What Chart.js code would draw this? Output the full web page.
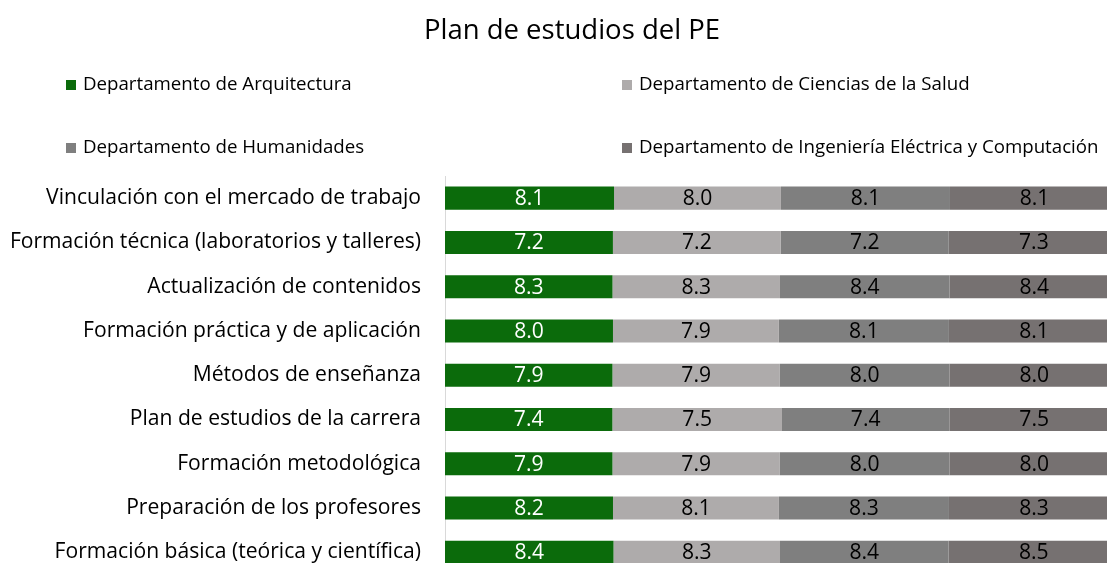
<!DOCTYPE html>
<html><head><meta charset="utf-8">
<script src="https://cdn.jsdelivr.net/npm/chart.js@4"></script>
<style>
html,body{margin:0;padding:0;overflow:hidden;background:#fff;width:1107px;height:563px}
#c{position:absolute;left:0;top:0}
</style></head>
<body><canvas id="c" width="1119" height="603"></canvas>
<script>
const chartTitle = 'Plan de estudios del PE';
const categories = [
  'Vinculación con el mercado de trabajo',
  'Formación técnica (laboratorios y talleres)',
  'Actualización de contenidos',
  'Formación práctica y de aplicación',
  'Métodos de enseñanza',
  'Plan de estudios de la carrera',
  'Formación metodológica',
  'Preparación de los profesores',
  'Formación básica (teórica y científica)'
];
const seriesNames = [
  'Departamento de Arquitectura',
  'Departamento de Ciencias de la Salud',
  'Departamento de Humanidades',
  'Departamento de Ingeniería Eléctrica y Computación'
];
const arquitectura = [8.1, 7.2, 8.3, 8.0, 7.9, 7.4, 7.9, 8.2, 8.4];
const cienciasSalud = [8.0, 7.2, 8.3, 7.9, 7.9, 7.5, 7.9, 8.1, 8.3];
const humanidades  = [8.1, 7.2, 8.4, 8.1, 8.0, 7.4, 8.0, 8.3, 8.4];
const ingElectrica = [8.1, 7.3, 8.4, 8.1, 8.0, 7.5, 8.0, 8.3, 8.5];

const seriesValues = [arquitectura, cienciasSalud, humanidades, ingElectrica];
const colors = ['#0b6b0b', '#aeabab', '#7f7f7f', '#767171'];
const labelColors = ['#ffffff', '#000000', '#000000', '#000000'];
const FONT = 'Open Sans';

const mctx = document.createElement('canvas').getContext('2d');
function fitSize(text, target) {
  mctx.font = '100px "' + FONT + '"';
  return Math.round(100 * target / mctx.measureText(text).width * 10) / 10;
}
const titleSize = fitSize(chartTitle, 296);
const tickSize = fitSize(categories[1], 412);
const legendSize = fitSize(seriesNames[3], 459);

const rowTotals = categories.map((_, i) => seriesValues.reduce((s, arr) => s + arr[i], 0));
const datasets = seriesValues.map((arr, k) => ({
  label: seriesNames[k],
  data: arr.map((v, i) => v / rowTotals[i] * 100),
  raw: arr,
  backgroundColor: colors[k],
  borderWidth: 0,
  barPercentage: 1,
  categoryPercentage: 0.52
}));

const decor = {
  id: 'decor',
  afterDatasetsDraw(chart) {
    const ctx = chart.ctx;
    ctx.save();
    ctx.font = tickSize + 'px "' + FONT + '"';
    ctx.textAlign = 'center';
    ctx.textBaseline = 'middle';
    chart.data.datasets.forEach((ds, k) => {
      const meta = chart.getDatasetMeta(k);
      meta.data.forEach((bar, i) => {
        const cx = (bar.x + bar.base) / 2;
        ctx.fillStyle = labelColors[k];
        ctx.fillText(ds.raw[i].toFixed(1), cx, bar.y + 1);
      });
    });
    ctx.font = titleSize + 'px "' + FONT + '"';
    ctx.fillStyle = '#000';
    ctx.fillText(chartTitle, 572, 31);
    ctx.font = legendSize + 'px "' + FONT + '"';
    ctx.textAlign = 'left';
    const pos = [[66, 85], [622, 85], [66, 148], [622, 148]];
    seriesNames.forEach((name, k) => {
      const [x, y] = pos[k];
      ctx.fillStyle = colors[k];
      ctx.fillRect(x, y - 5, 10, 10);
      ctx.fillStyle = '#000';
      ctx.fillText(name, x + 17, y);
    });
    ctx.restore();
  }
};

new Chart(document.getElementById('c'), {
  type: 'bar',
  data: { labels: categories, datasets },
  options: {
    indexAxis: 'y',
    responsive: false,
    animation: false,
    layout: { padding: { top: 176, left: 0, right: 0, bottom: 0 } },
    plugins: { legend: { display: false }, title: { display: false }, tooltip: { enabled: false } },
    scales: {
      x: { stacked: true, min: 0, max: 100, display: false },
      y: {
        stacked: true,
        grid: { display: false },
        border: { display: true, color: '#d9d9d9', width: 1 },
        ticks: { color: '#000', font: { family: FONT, size: tickSize }, padding: 16 },
        afterFit(s) { s.width = 445; }
      }
    }
  },
  plugins: [decor]
});
</script>
</body></html>
